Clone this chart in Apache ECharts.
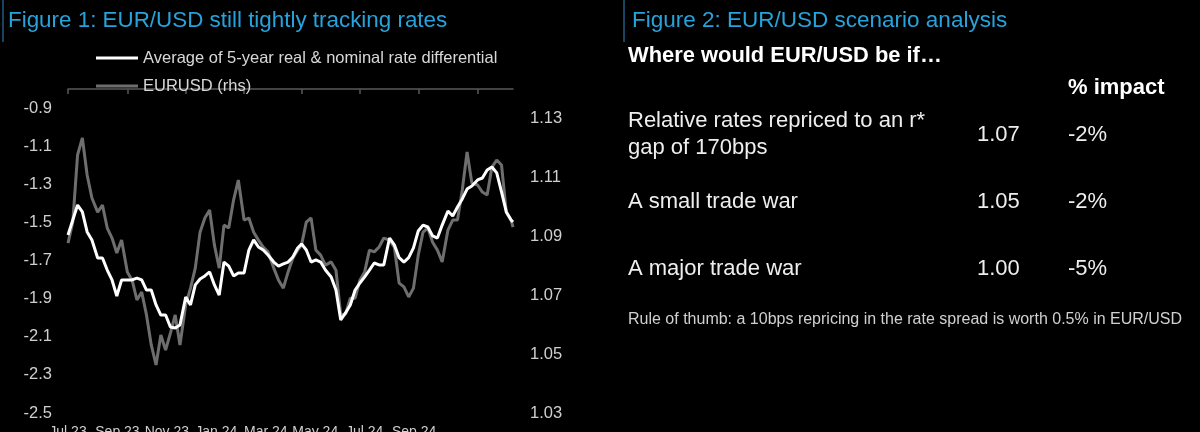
<!DOCTYPE html>
<html>
<head>
<meta charset="utf-8">
<script src="https://cdn.jsdelivr.net/npm/echarts@6/dist/echarts.min.js"></script>
<style>
html,body{margin:0;padding:0;background:#000;}
#chart{width:1200px;height:432px;}
</style>
</head>
<body>
<div id="chart"></div>
<script>
// ---- data ----
const dates = [
'2023-07-01','2023-07-06','2023-07-11','2023-07-16','2023-07-21','2023-07-26',
'2023-08-01','2023-08-06','2023-08-11','2023-08-16','2023-08-21','2023-08-26',
'2023-09-01','2023-09-06','2023-09-11','2023-09-16','2023-09-21','2023-09-26',
'2023-10-01','2023-10-06','2023-10-11','2023-10-16','2023-10-21','2023-10-26',
'2023-11-01','2023-11-06','2023-11-11','2023-11-16','2023-11-21','2023-11-26',
'2023-12-01','2023-12-06','2023-12-11','2023-12-16','2023-12-21','2023-12-26',
'2024-01-01','2024-01-06','2024-01-11','2024-01-16','2024-01-21','2024-01-26',
'2024-02-01','2024-02-06','2024-02-11','2024-02-16','2024-02-21','2024-02-26',
'2024-03-01','2024-03-06','2024-03-11','2024-03-16','2024-03-21','2024-03-26',
'2024-04-01','2024-04-06','2024-04-11','2024-04-16','2024-04-21','2024-04-26',
'2024-05-01','2024-05-06','2024-05-11','2024-05-16','2024-05-21','2024-05-26',
'2024-06-01','2024-06-06','2024-06-11','2024-06-16','2024-06-21','2024-06-26',
'2024-07-01','2024-07-06','2024-07-11','2024-07-16','2024-07-21','2024-07-26',
'2024-08-01','2024-08-06','2024-08-11','2024-08-16','2024-08-21','2024-08-26',
'2024-09-01','2024-09-06','2024-09-11','2024-09-16','2024-09-21','2024-09-26',
'2024-10-01','2024-10-06','2024-10-08'
];
// Average of 5-year real & nominal rate differential (lhs)
const rateDiff = [
-1.566,-1.487,-1.409,-1.445,-1.550,-1.592,
-1.687,-1.687,-1.750,-1.802,-1.886,-1.802,
-1.802,-1.802,-1.792,-1.802,-1.855,-1.855,
-1.933,-1.986,-1.986,-2.049,-2.054,-2.038,
-1.891,-1.933,-1.828,-1.797,-1.781,-1.760,
-1.828,-1.881,-1.708,-1.729,-1.781,-1.765,
-1.765,-1.645,-1.592,-1.629,-1.645,-1.671,
-1.708,-1.729,-1.718,-1.708,-1.681,-1.634,
-1.613,-1.645,-1.708,-1.697,-1.708,-1.750,
-1.786,-1.855,-2.012,-1.975,-1.933,-1.855,
-1.818,-1.786,-1.750,-1.713,-1.723,-1.723,
-1.582,-1.618,-1.685,-1.708,-1.685,-1.634,
-1.545,-1.514,-1.524,-1.571,-1.582,-1.514,
-1.440,-1.466,-1.419,-1.377,-1.325,-1.309,
-1.277,-1.267,-1.225,-1.209,-1.240,-1.340,
-1.445,-1.487,-1.498
];
// EURUSD (rhs)
const eurusd = [
1.0877,1.0948,1.1176,1.1234,1.1108,1.1030,
1.0982,1.1006,1.0928,1.0894,1.0843,1.0887,
1.0779,1.0751,1.0684,1.0711,1.0633,1.0531,
1.0463,1.0565,1.0514,1.0571,1.0633,1.0531,
1.0667,1.0724,1.0792,1.0914,1.0962,1.0989,
1.0870,1.0792,1.0938,1.0928,1.1023,1.1091,
1.0955,1.0962,1.0914,1.0887,1.0863,1.0847,
1.0792,1.0751,1.0724,1.0779,1.0826,1.0853,
1.0870,1.0948,1.0962,1.0853,1.0836,1.0802,
1.0813,1.0785,1.0633,1.0636,1.0690,1.0690,
1.0751,1.0779,1.0853,1.0847,1.0863,1.0894,
1.0887,1.0863,1.0741,1.0728,1.0694,1.0724,
1.0836,1.0914,1.0928,1.0880,1.0853,1.0813,
1.0921,1.0955,1.0955,1.1057,1.1186,1.1081,
1.1074,1.1050,1.1040,1.1135,1.1159,1.1142,
1.0982,1.0955,1.0931
];
const tickDates = ['2023-07-01','2023-09-01','2023-11-01','2024-01-01','2024-03-01','2024-05-01','2024-07-01','2024-09-01'];
const xLabels = ['Jul 23','Sep 23','Nov 23','Jan 24','Mar 24','May 24','Jul 24','Sep 24','',''];
const seriesNames = ['Average of 5-year real & nominal rate differential','EURUSD (rhs)'];
const scenarios = ['A small trade war','A major trade war'];
const scenarioLevels = ['1.07','1.05','1.00'];
const scenarioImpacts = ['-2%','-2%','-5%'];

// ---- chart ----
const FONT = "'Liberation Sans', Arial, Helvetica, sans-serif";
const toTs = s => {
  try { return +echarts.time.parse(s); } catch (e) { return +new Date(s + 'T00:00:00'); }
};
const chart = echarts.init(document.getElementById('chart'), null, {renderer: 'canvas'});

function txt(text, x, y, size, color, weight) {
  return {
    type: 'text', x: x, y: y, silent: true,
    style: {
      text: text, fill: color,
      font: (weight || 'normal') + ' ' + size + 'px ' + FONT,
      textVerticalAlign: 'middle', verticalAlign: 'middle', textAlign: 'left', align: 'left'
    }
  };
}

const option = {
  backgroundColor: '#000000',
  animation: false,
  legend: {
    orient: 'vertical',
    left: 91, top: 43,
    itemWidth: 42, itemHeight: 3, itemGap: 8,
    icon: 'rect',
    data: seriesNames,
    textStyle: {color: '#d8d8d8', fontSize: 16.5, fontFamily: FONT, lineHeight: 20},
    selectedMode: false
  },
  grid: {left: 68, right: 687, top: 89, bottom: 19, containLabel: false, outerBoundsMode: 'none'},
  xAxis: [
    {
      type: 'time', position: 'top',
      min: toTs('2023-07-01'), max: toTs('2024-10-08'),
      axisLine: {show: true, lineStyle: {color: '#5a5a5a', width: 1.5}},
      axisTick: {show: true, inside: true, length: 5, lineStyle: {color: '#5a5a5a', width: 1.5},
                 customValues: tickDates.map(toTs)},
      axisLabel: {show: false},
      splitLine: {show: false}
    },
    {
      type: 'category', position: 'bottom', boundaryGap: false,
      data: xLabels,
      axisLine: {show: false}, axisTick: {show: false},
      axisLabel: {show: true, interval: 0, color: '#cfcfcf', fontSize: 14, fontFamily: FONT, margin: 12},
      splitLine: {show: false}
    }
  ],
  yAxis: [
    {
      type: 'value', position: 'left', min: -2.5, max: -0.8, interval: 0.1,
      axisLine: {show: false}, axisTick: {show: false}, splitLine: {show: false},
      axisLabel: {
        color: '#cfcfcf', fontSize: 16.5, fontFamily: FONT, margin: 16,
        formatter: v => { const k = Math.round(v * 10); return Math.abs(k) % 2 === 1 ? (k / 10).toFixed(1) : ''; }
      }
    },
    {
      type: 'value', position: 'right', min: 1.03, max: 1.14, interval: 0.01,
      axisLine: {show: false}, axisTick: {show: false}, splitLine: {show: false},
      axisLabel: {
        color: '#cfcfcf', fontSize: 16.5, fontFamily: FONT, margin: 17,
        formatter: v => { const k = Math.round(v * 100); return k % 2 === 1 ? (k / 100).toFixed(2) : ''; }
      }
    }
  ],
  series: [
    {
      name: seriesNames[0], type: 'line', xAxisIndex: 0, yAxisIndex: 0,
      data: dates.map((d, i) => [toTs(d), rateDiff[i]]),
      showSymbol: false, symbol: 'none', color: '#ffffff',
      lineStyle: {color: '#ffffff', width: 3}, z: 3
    },
    {
      name: seriesNames[1], type: 'line', xAxisIndex: 0, yAxisIndex: 1,
      data: dates.map((d, i) => [toTs(d), eurusd[i]]),
      showSymbol: false, symbol: 'none', color: '#6e6e6e',
      lineStyle: {color: '#6e6e6e', width: 3}, z: 2
    }
  ],
  graphic: [
    {type: 'line', silent: true, shape: {x1: 3, y1: 0, x2: 3, y2: 42}, style: {stroke: '#1e5b82', lineWidth: 1.5}},
    {type: 'line', silent: true, shape: {x1: 624, y1: 0, x2: 624, y2: 42}, style: {stroke: '#1e5b82', lineWidth: 1.5}},
    txt('Figure 1: EUR/USD still tightly tracking rates', 8, 21, 22.4, '#27a3dc'),
    txt('Figure 2: EUR/USD scenario analysis', 632, 21, 22.5, '#27a3dc'),
    txt('Where would EUR/USD be if\u2026', 628, 56, 21.9, '#ffffff', 'bold'),
    txt('% impact', 1068, 88, 22, '#ffffff', 'bold'),
    txt('Relative rates repriced to an r*', 628, 121, 22, '#eeeeee'),
    txt('gap of 170bps', 628, 148, 22, '#eeeeee'),
    txt(scenarioLevels[0], 977, 135, 22, '#eeeeee'),
    txt(scenarioImpacts[0], 1068, 135, 22, '#eeeeee'),
    txt(scenarios[0], 628, 202, 22, '#eeeeee'),
    txt(scenarioLevels[1], 977, 202, 22, '#eeeeee'),
    txt(scenarioImpacts[1], 1068, 202, 22, '#eeeeee'),
    txt(scenarios[1], 628, 269, 22, '#eeeeee'),
    txt(scenarioLevels[2], 977, 269, 22, '#eeeeee'),
    txt(scenarioImpacts[2], 1068, 269, 22, '#eeeeee'),
    txt('Rule of thumb: a 10bps repricing in the rate spread is worth 0.5% in EUR/USD', 628, 320, 16, '#d0d0d0')
  ]
};
chart.setOption(option);
</script>
</body>
</html>
